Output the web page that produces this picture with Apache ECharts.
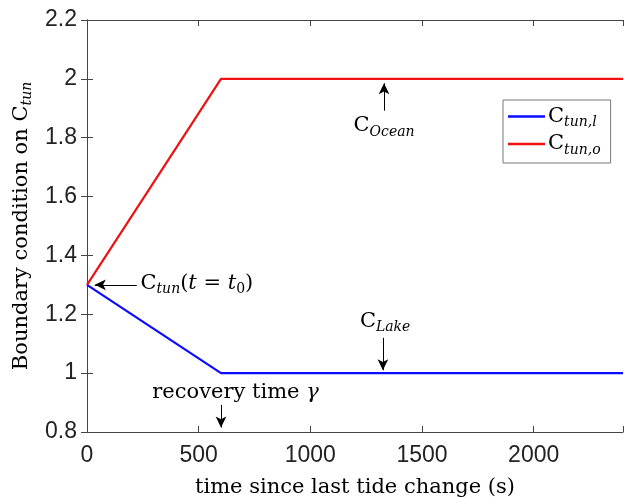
<!DOCTYPE html>
<html>
<head>
<meta charset="utf-8">
<script src="https://cdn.jsdelivr.net/npm/echarts@6/dist/echarts.min.js"></script>
<style>
  html, body { margin: 0; padding: 0; background: #fff; }
  #chart { width: 624px; height: 497px; }
</style>
</head>
<body>
<div id="chart"></div>
<script>
// data
var timeX = [0, 600, 2400];
var cTunLake = [1.3, 1, 1];
var cTunOcean = [1.3, 2, 2];
var xTicks = [0, 500, 1000, 1500, 2000];
var yTicks = [0.8, 1, 1.2, 1.4, 1.6, 1.8, 2, 2.2];

var serif = 'DejaVu Serif';
var axisColor = '#444';
var rich = {
  m: { fontFamily: serif, fontSize: 21, color: '#000', lineHeight: 26 },
  i: { fontFamily: serif, fontSize: 21, fontStyle: 'italic', color: '#000', lineHeight: 26 },
  s: { fontFamily: serif, fontSize: 14, fontStyle: 'italic', color: '#000', verticalAlign: 'bottom', lineHeight: 26 },
  n: { fontFamily: serif, fontSize: 14, color: '#000', verticalAlign: 'bottom', lineHeight: 26 }
};

function pairs (ys) {
  return timeX.map(function (x, i) { return [x, ys[i]] })
}

var chart = echarts.init(document.getElementById('chart'));

var arrowStyle = { color: '#000', width: 1, type: 'solid' };

var option = {
  animation: false,
  grid: { left: 87, top: 20, right: 1, bottom: 65, containLabel: false, outerBoundsMode: 'none' },
  legend: {
    orient: 'vertical',
    left: 503,
    top: 100,
    padding: [6, 10, 6, 5],
    itemGap: 4,
    itemWidth: 37,
    itemHeight: 2.5,
    icon: 'rect',
    borderColor: '#777',
    borderWidth: 1,
    backgroundColor: '#fff',
    data: ['Ctun,l', 'Ctun,o'],
    formatter: function (name) {
      return '{m|C}{s|' + name.slice(1) + '}'
    },
    textStyle: { rich: rich, padding: [0, 0, 0, -2] }
  },
  xAxis: [{
    type: 'value',
    min: 0,
    max: 2400,
    interval: 500,
    name: 'time since last tide change (s)',
    nameLocation: 'middle',
    nameGap: 45,
    nameTextStyle: { fontFamily: serif, fontSize: 21, color: '#000' },
    axisLine: { show: true, lineStyle: { color: axisColor } },
    axisTick: { show: true, inside: true, length: 6, lineStyle: { color: axisColor } },
    axisLabel: {
      fontFamily: 'Liberation Sans', fontSize: 23, color: '#222', margin: 12,
      formatter: function (v) { return xTicks.indexOf(v) >= 0 ? String(v) : '' }
    },
    splitLine: { show: false }
  }, {
    type: 'value',
    position: 'top',
    min: 0,
    max: 2400,
    interval: 500,
    axisLine: { show: true, lineStyle: { color: axisColor } },
    axisTick: { show: true, inside: true, length: 6, lineStyle: { color: axisColor } },
    axisLabel: { show: false },
    splitLine: { show: false }
  }],
  yAxis: [{
    type: 'value',
    min: 0.8,
    max: 2.2,
    interval: 0.2,
    name: '{m|Boundary condition on C}{s|tun}',
    nameLocation: 'middle',
    nameGap: 52,
    nameTextStyle: { rich: rich },
    axisLine: { show: true, lineStyle: { color: axisColor } },
    axisTick: { show: true, inside: true, length: 6, lineStyle: { color: axisColor } },
    axisLabel: {
      fontFamily: 'Liberation Sans', fontSize: 23, color: '#222', margin: 10,
      formatter: function (v) {
        var r = Math.round(v * 10) / 10;
        return yTicks.indexOf(r) >= 0 ? String(r) : ''
      }
    },
    splitLine: { show: false }
  }, {
    type: 'value',
    position: 'right',
    min: 0.8,
    max: 2.2,
    interval: 0.2,
    axisLine: { show: true, lineStyle: { color: axisColor } },
    axisTick: { show: true, inside: true, length: 6, lineStyle: { color: axisColor } },
    axisLabel: { show: false },
    splitLine: { show: false }
  }],
  series: [{
    name: 'Ctun,l',
    type: 'line',
    symbol: 'none',
    lineStyle: { color: '#0a0aff', width: 2.2 },
    itemStyle: { color: '#0a0aff' },
    data: pairs(cTunLake),
    z: 3,
    markLine: {
      silent: true,
      symbol: ['none', 'arrow'],
      symbolSize: [8, 11],
      label: { show: false },
      lineStyle: arrowStyle,
      data: [
        [{ coord: [223, 1.3] }, { coord: [35, 1.3] }],
        [{ coord: [1330, 1.892] }, { coord: [1330, 1.985] }],
        [{ coord: [1325, 1.12] }, { coord: [1325, 1.01] }],
        [{ coord: [600, 0.892] }, { coord: [600, 0.815] }]
      ]
    },
    markPoint: {
      silent: true,
      symbol: 'rect',
      symbolSize: 1,
      itemStyle: { color: 'rgba(0,0,0,0)' },
      label: { show: true, rich: rich },
      data: [
        { coord: [237, 1.306], label: { position: 'right', distance: 0, formatter: '{m|C}{s|tun}{m|(}{i|t}{m| = }{i|t}{n|0}{m|)}' } },
        { coord: [1330, 1.84], label: { position: 'inside', formatter: '{m|C}{s|Ocean}' } },
        { coord: [1335, 1.175], label: { position: 'inside', formatter: '{m|C}{s|Lake}' } },
        { coord: [665, 0.935], label: { position: 'inside', formatter: '{m|recovery time }{i|γ}' } }
      ]
    }
  }, {
    name: 'Ctun,o',
    type: 'line',
    symbol: 'none',
    lineStyle: { color: '#ee1111', width: 2.2 },
    itemStyle: { color: '#ee1111' },
    data: pairs(cTunOcean),
    z: 3
  }]
};

chart.setOption(option);
</script>
</body>
</html>
